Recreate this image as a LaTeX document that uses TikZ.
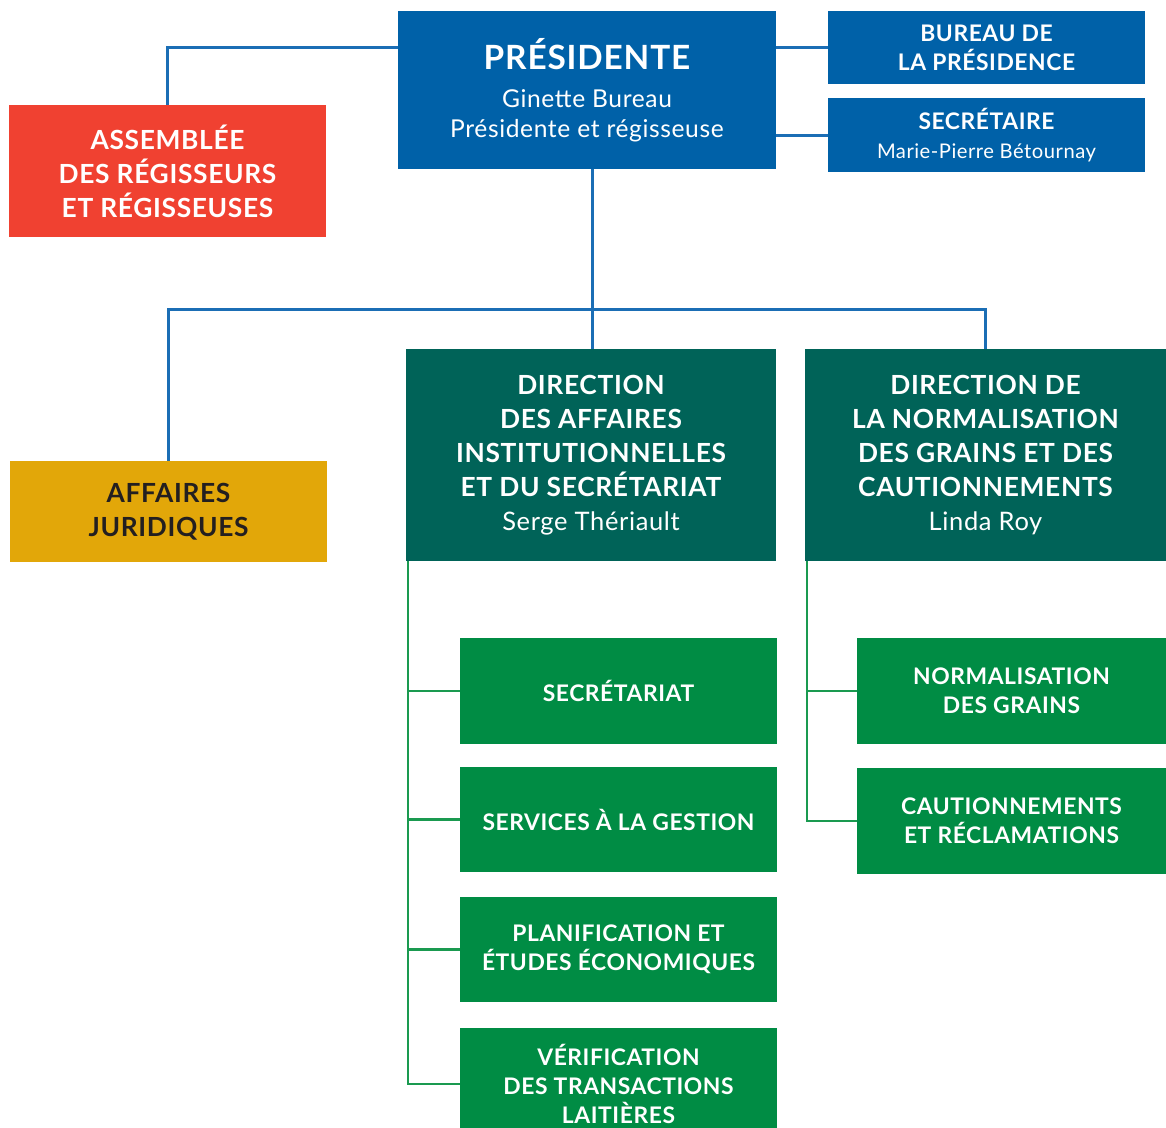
\documentclass[tikz,border=0pt]{standalone}
\usepackage{fontspec}
\setmainfont{Lato}[LetterSpace=2.5]
\usepackage{tikz}

\definecolor{presblue}{HTML}{0061A8}
\definecolor{lineblue}{HTML}{1B6EB5}
\definecolor{assred}{HTML}{F04131}
\definecolor{jurgold}{HTML}{E2A709}
\definecolor{dirteal}{HTML}{006358}
\definecolor{servgreen}{HTML}{008C44}
\definecolor{linegreen}{HTML}{1A9A50}
\definecolor{darktext}{HTML}{231F20}

\newcommand{\namefont}{\mdseries\fontsize{14.5}{19.3}\selectfont}

\begin{document}
\begin{tikzpicture}[x=0.02cm, y=-0.02cm,
	box/.style={inner sep=0pt, align=center, text=white, font=\bfseries},
	title/.style={font=\bfseries\fontsize{15}{19.3}\selectfont},
	small/.style={font=\bfseries\fontsize{13}{16.4}\selectfont},
	bline/.style={draw=lineblue, line width=1.7pt},
	gline/.style={draw=linegreen, line width=1.6pt}]
	\useasboundingbox (0, 0) rectangle (1166, 1127);

	% top row
	\node [box, fill=presblue, font=\mdseries\fontsize{14}{17}\selectfont,
		minimum width=7.56cm, minimum height=3.16cm] (pres) at (587, 90)
		{\bfseries\fontsize{19}{24}\selectfont PRÉSIDENTE\\[4.5pt]
		Ginette Bureau\\Présidente et régisseuse};
	\node [box, small, fill=presblue, minimum width=6.34cm, minimum height=1.46cm] (bureau) at (986.5, 47.5)
		{BUREAU DE\\LA PRÉSIDENCE};
	\node [box, small, fill=presblue, minimum width=6.34cm, minimum height=1.48cm] (secr) at (986.5, 135)
		{SECRÉTAIRE\\\mdseries\fontsize{11.5}{16.4}\selectfont Marie-Pierre Bétournay};
	\node [box, title, fill=assred, minimum width=6.34cm, minimum height=2.64cm] (assemb) at (167.5, 171)
		{ASSEMBLÉE\\DES RÉGISSEURS\\ET RÉGISSEUSES};

	% directions
	\node [box, title, fill=jurgold, text=darktext, minimum width=6.34cm, minimum height=2.02cm] (jur) at (168.5, 511.5)
		{AFFAIRES\\JURIDIQUES};
	\node [box, title, fill=dirteal, minimum width=7.4cm, minimum height=4.24cm] (dirinst) at (591, 455)
		{DIRECTION\\DES AFFAIRES\\INSTITUTIONNELLES\\ET DU SECRÉTARIAT\\\namefont Serge Thériault};
	\node [box, title, fill=dirteal, minimum width=7.22cm, minimum height=4.24cm] (dirnorm) at (985.5, 455)
		{DIRECTION DE\\LA NORMALISATION\\DES GRAINS ET DES\\CAUTIONNEMENTS\\\namefont Linda Roy};

	% services
	\node [box, small, fill=servgreen, minimum width=6.34cm, minimum height=2.12cm] (secret) at (618.5, 691)
		{SECRÉTARIAT};
	\node [box, small, fill=servgreen, minimum width=6.34cm, minimum height=2.1cm] (gestion) at (618.5, 819.5)
		{SERVICES À LA GESTION};
	\node [box, small, fill=servgreen, minimum width=6.34cm, minimum height=2.1cm] (planif) at (618.5, 949.5)
		{PLANIFICATION ET\\ÉTUDES ÉCONOMIQUES};
	\node [box, small, fill=servgreen, minimum width=6.34cm, minimum height=2.24cm] (verif) at (618.5, 1084)
		{VÉRIFICATION\\DES TRANSACTIONS\\LAITIÈRES};
	\node [box, small, fill=servgreen, minimum width=6.18cm, minimum height=2.12cm] (grains) at (1011.5, 691)
		{NORMALISATION\\DES GRAINS};
	\node [box, small, fill=servgreen, minimum width=6.18cm, minimum height=2.12cm] (caution) at (1011.5, 821)
		{CAUTIONNEMENTS\\ET RÉCLAMATIONS};

	\coordinate (bus) at (592, 309);
	\coordinate (spineinst) at (408, 561);
	\coordinate (spinenorm) at (807, 561);

	% blue links
	\draw [bline] (pres.west |- bureau) -| (assemb.north);
	\draw [bline] (pres.east |- bureau) -- (bureau.west);
	\draw [bline] (pres.east |- secr) -- (secr.west);
	\draw [bline] (bus |- pres.south) -- (bus);
	\draw [bline] (jur.north) |- (bus) -| (dirnorm.north);
	\draw [bline] (bus) -- (bus |- dirinst.north);

	% green links
	\draw [gline] (spineinst) |- (verif.west);
	\foreach \n in {secret, gestion, planif}
		\draw [gline] (spineinst |- \n.west) -- (\n.west);
	\draw [gline] (spinenorm) |- (caution.west);
	\draw [gline] (spinenorm |- grains.west) -- (grains.west);
\end{tikzpicture}
\end{document}
